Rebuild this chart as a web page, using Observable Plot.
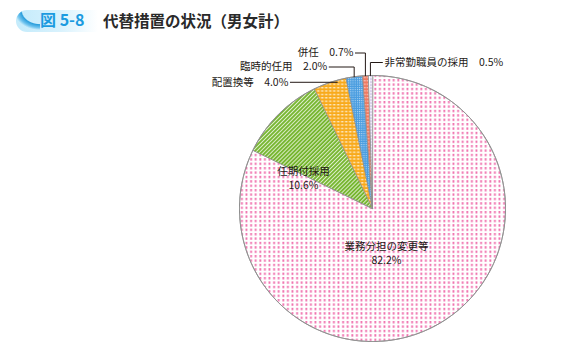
<!DOCTYPE html>
<html><head><meta charset="utf-8">
<script src="https://cdn.jsdelivr.net/npm/d3@7"></script>
<script src="https://cdn.jsdelivr.net/npm/@observablehq/plot@0.6"></script>
<style>
body{margin:0;background:#fff;font-family:"Noto Sans CJK JP",sans-serif;}
#header{position:relative;width:566px;height:38px;overflow:hidden}
.badge{position:absolute;left:16px;top:10px;width:82px;height:22px;border-radius:11px 0 0 11px;background:linear-gradient(to right,#c4ebfb 0%,#d9f2fd 55%,rgba(255,255,255,0) 100%);overflow:hidden}
.swoosh{position:absolute;left:0;top:0;width:24px;height:22px;border-radius:11px 0 0 11px;background:radial-gradient(ellipse 26px 20px at 100% 0%,rgba(0,0,0,0) 68%,#2c9fdc 73%,#6fc3ee 88%,rgba(255,255,255,0) 100%)}
.badge-text{position:absolute;left:40px;top:8px;font-size:16px;line-height:22px;color:#1b9be0;font-weight:bold;font-family:"Noto Sans CJK JP",sans-serif}
.title{position:absolute;left:103px;top:9px;font-size:15.5px;line-height:22px;color:#2a2a2a;font-weight:bold;font-family:"Noto Sans CJK JP",sans-serif}
</style></head>
<body>
<div id="header"><div class="badge"><div class="swoosh"></div></div><div class="badge-text">図 5-8</div><div class="title">代替措置の状況（男女計）</div></div>
<div id="chart"></div>
<script>
const categories = ["業務分担の変更等","任期付採用","配置換等","臨時的任用","併任","非常勤職員の採用"];
const values = [82.2, 10.6, 4.0, 2.0, 0.7, 0.5];
const valueLabels = ["82.2%","10.6%","4.0%","2.0%","0.7%","0.5%"];

// layout
const W = 566, H = 315, cx = 372, cy = 170, R = 133;
const insideLayout = {0: {dx: 14, dy: 38.5}, 1: {dx: -69, dy: -36.5}};
const calloutLayout = {
  2: {frac: 0.72, rf: 0.985, labelY: null, len: 47, side: "left"},
  3: {frac: 0.5, rf: 1, labelY: 28.5, len: 25, side: "left"},
  4: {frac: 0.5, rf: 1, labelY: 14.5, len: 10, side: "left"},
  5: {frac: 0.5, rf: 1, labelY: 24, len: 12, side: "right"}
};

const total = d3.sum(values);
let acc = 0;
const slices = categories.map((c, i) => {
  const a0 = acc / total * 2 * Math.PI; acc += values[i];
  const a1 = acc / total * 2 * Math.PI;
  return {c, i, a0, a1};
});
const polar = (a, r) => ({x: cx + r * Math.sin(a), y: cy - r * Math.cos(a)});
function slicePoints(s) {
  const pts = [polar(0, 0)];
  const n = Math.max(2, Math.ceil((s.a1 - s.a0) / (Math.PI / 360)));
  for (let k = 0; k <= n; k++) pts.push(polar(s.a0 + (s.a1 - s.a0) * k / n, R));
  return pts;
}
const circle = d3.range(0, 721).map(k => polar(k / 720 * 2 * Math.PI, R));

const insideTexts = [];
for (const [i, l] of Object.entries(insideLayout)) {
  insideTexts.push({x: cx + l.dx, y: cy + l.dy, t: categories[i]});
  insideTexts.push({x: cx + l.dx, y: cy + l.dy + 13.5, t: valueLabels[i]});
}
const calloutLines = [], calloutTexts = [];
for (const [i, l] of Object.entries(calloutLayout)) {
  const s = slices[i];
  const p = polar(s.a0 + (s.a1 - s.a0) * l.frac, R * l.rf);
  const ly = l.labelY == null ? p.y : l.labelY;
  const sg = l.side === "left" ? -1 : 1;
  calloutLines.push({k: i, x: p.x + sg * l.len, y: ly}, {k: i, x: p.x, y: ly}, {k: i, x: p.x, y: p.y});
  calloutTexts.push({x: p.x + sg * (l.len + 2), y: ly, t: categories[i] + "\u3000" + valueLabels[i], anchor: l.side === "left" ? "end" : "start"});
}

const svg = Plot.plot({
  width: W, height: H, margin: 0,
  x: {domain: [0, W], range: [0, W], axis: null},
  y: {domain: [0, H], range: [0, H], axis: null},
  style: {fontFamily: "'Noto Sans CJK JP', sans-serif", background: "#fff"},
  marks: [
    ...slices.map(s => Plot.line(slicePoints(s), {x: "x", y: "y", curve: "linear-closed", fill: `url(#pat${s.i})`, stroke: "#8e8e8e", strokeWidth: 0.8})),
    Plot.line(circle, {x: "x", y: "y", stroke: "#8e8e8e", strokeWidth: 1}),
    Plot.text(insideTexts, {x: "x", y: "y", text: "t", fontSize: 10.5, fill: "#231815"}),
    Plot.line(calloutLines, {x: "x", y: "y", z: "k", stroke: "#231815", strokeWidth: 1}),
    Plot.text(calloutTexts.filter(d => d.anchor === "end"), {x: "x", y: "y", text: "t", textAnchor: "end", fontSize: 10.5, fill: "#231815"}),
    Plot.text(calloutTexts.filter(d => d.anchor === "start"), {x: "x", y: "y", text: "t", textAnchor: "start", fontSize: 10.5, fill: "#231815"})
  ]
});
d3.select(svg).insert("defs", ":first-child").html(`
<pattern id="pat0" patternUnits="userSpaceOnUse" width="4.6" height="4.4"><rect width="4.6" height="4.4" fill="#fff"/><rect x="1.3" y="0.9" width="1.8" height="2.4" fill="#ee5ea3" opacity="0.9"/></pattern>
<pattern id="pat1" patternUnits="userSpaceOnUse" width="2.8" height="2.8" patternTransform="rotate(45)"><rect width="2.8" height="2.8" fill="#74b52c"/><rect width="1" height="2.8" fill="#fff" opacity="0.75"/></pattern>
<pattern id="pat2" patternUnits="userSpaceOnUse" width="4" height="3.4"><rect width="4" height="3.4" fill="#f8aa1c"/><rect x="0.6" y="1" width="2.2" height="1.1" fill="#fff"/></pattern>
<pattern id="pat3" patternUnits="userSpaceOnUse" width="2.2" height="2.2"><rect width="2.2" height="2.2" fill="#4a9de0"/><rect width="1" height="1" fill="#fff" opacity="0.6"/></pattern>
<pattern id="pat4" patternUnits="userSpaceOnUse" width="3" height="3.4"><rect width="3" height="3.4" fill="#ef7a61"/><rect x="0.5" y="1" width="1.6" height="1" fill="#fff" opacity="0.8"/></pattern>
<pattern id="pat5" patternUnits="userSpaceOnUse" width="3" height="3"><rect width="3" height="3" fill="#fff"/><rect x="1" y="0.8" width="1" height="1.5" fill="#8b70c2"/></pattern>
`);
document.getElementById("chart").appendChild(svg);
</script>
</body></html>
